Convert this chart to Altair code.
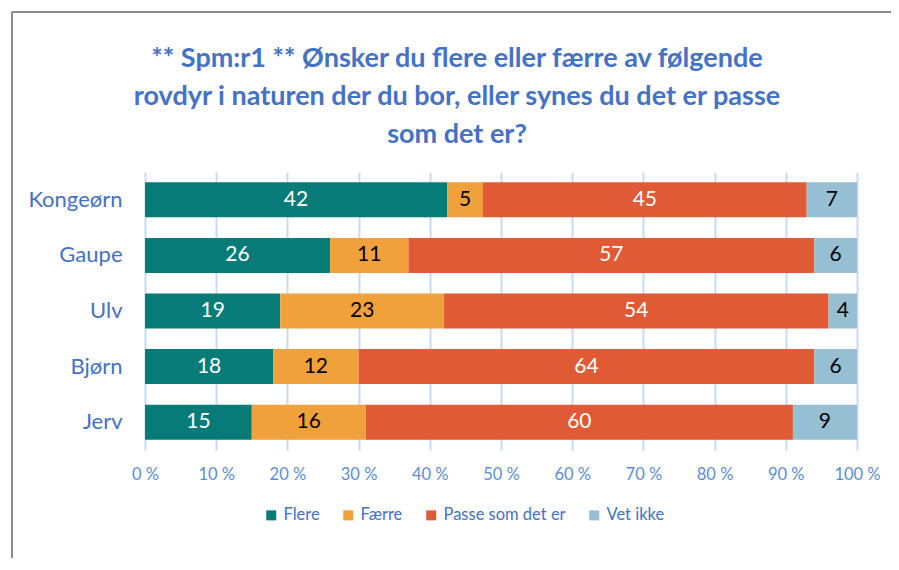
import altair as alt
import pandas as pd

animals = ["Kongeørn", "Gaupe", "Ulv", "Bjørn", "Jerv"]
categories = ["Flere", "Færre", "Passe som det er", "Vet ikke"]
flere = [42, 26, 19, 18, 15]
faerre = [5, 11, 23, 12, 16]
passe = [45, 57, 54, 64, 60]
vet_ikke = [7, 6, 4, 6, 9]
colors = ["#077B78", "#F0A13C", "#E05A35", "#97BFD3"]
label_colors = ["white", "black", "white", "black"]
title_lines = ["** Spm:r1 ** Ønsker du flere eller færre av følgende",
               "rovdyr i naturen der du bor, eller synes du det er passe",
               "som det er?"]

series = [flere, faerre, passe, vet_ikke]
rows = []
for ci, (cat, vals) in enumerate(zip(categories, series)):
    for ai, a in enumerate(animals):
        rows.append({"animal": a, "cat": cat, "order": ci, "value": vals[ai]})
df = pd.DataFrame(rows)

FONT = "Lato"
BLUE = "#4472C4"
TICK_BLUE = "#5B8ED6"

base = alt.Chart(df).transform_stack(
    stack="value", groupby=["animal"], sort=[{"field": "order", "order": "ascending"}],
    as_=["v0", "v1"], offset="normalize"
).transform_calculate(mid="(datum.v0 + datum.v1) / 2")

y_enc = alt.Y("animal:N", sort=animals,
              scale=alt.Scale(paddingInner=0.37, paddingOuter=0.185),
              axis=alt.Axis(title=None, domain=False, ticks=False, labelFontSize=22,
                            labelFont=FONT, labelColor=BLUE, labelPadding=23))

bars = base.mark_bar().encode(
    x=alt.X("v0:Q", scale=alt.Scale(domain=[0, 1]),
            axis=alt.Axis(title=None, values=[i / 10 for i in range(11)],
                          labelExpr="round(datum.value * 100) + ' %'",
                          labelFlush=False,
                          domain=False, ticks=False, grid=True, gridColor="#C9D9EF",
                          gridWidth=2, labelFontSize=16.5, labelFont=FONT,
                          labelColor=TICK_BLUE, labelPadding=16)),
    x2="v1:Q",
    y=y_enc,
    color=alt.Color("cat:N", sort=categories,
                    scale=alt.Scale(domain=categories, range=colors),
                    legend=alt.Legend(title=None, orient="none", direction="horizontal",
                                      legendX=118, legendY=335, symbolType="square",
                                      symbolSize=100, symbolStrokeWidth=0,
                                      labelFontSize=16.5, labelFont=FONT, labelColor=BLUE,
                                      columnPadding=20, labelOffset=4)),
)

texts = base.mark_text(fontSize=21, font=FONT).encode(
    x="mid:Q",
    y=alt.Y("animal:N", sort=animals),
    text="value:Q",
    color=alt.Color("cat:N", scale=alt.Scale(domain=categories, range=label_colors), legend=None),
)

one = pd.DataFrame({"k": [0]})
title = alt.Chart(one).mark_text(
    fontSize=27, font=FONT, fontWeight="bold", color=BLUE, lineHeight=38,
    align="center", baseline="top"
).encode(x=alt.value(312), y=alt.value(-126), text=alt.value(title_lines))

frame_left = alt.Chart(one).mark_rule(color="#8C8C8C", strokeWidth=2).encode(
    x=alt.value(-133), y=alt.value(-160), y2=alt.value(440))
frame_top = alt.Chart(one).mark_rule(color="#8C8C8C", strokeWidth=2).encode(
    x=alt.value(-133), x2=alt.value(760), y=alt.value(-160))

chart = alt.layer(bars, texts, title, frame_left, frame_top).resolve_scale(color="independent").properties(
    width=712, height=278,
    autosize=alt.AutoSizeParams(type="none"),
    padding={"left": 137, "top": 164, "right": 34, "bottom": 108},
).configure_view(stroke=None)

chart.save("out.html", embed_options={"renderer": "svg", "actions": False})
